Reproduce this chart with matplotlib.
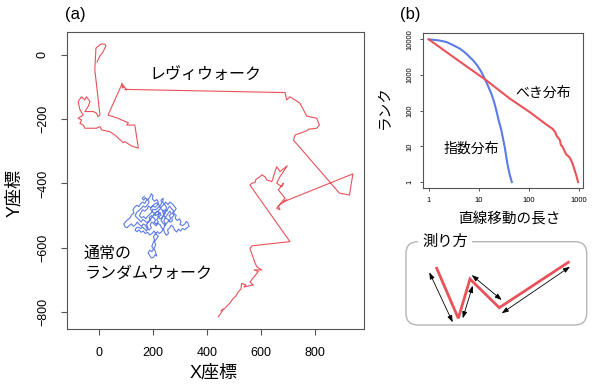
import matplotlib
matplotlib.use("Agg")
import matplotlib.pyplot as plt
import matplotlib.patches as mpatches

plt.rcParams['font.family'] = ['Liberation Sans', 'Noto Sans CJK JP', 'DejaVu Sans']

# ---- data: Levy walk (red)
levy_x = [442, 452, 459, 452, 467, 485, 496, 507, 516, 526, 528, 544, 537, 571, 559, 590, 574, 603,
          585, 578, 567, 559, 567, 707, 559,
          566, 578, 581, 596, 603, 615, 621, 640, 652, 658, 670, 697, 670, 658, 677, 683, 664, 689,
          683, 658, 670, 664, 695, 683,
          940, 927, 890, 720, 726, 769, 775, 806, 816, 806, 769, 744, 707, 695, 689,
          96, 103, 84, 90, 84, 34,
          71, 78, 109, 103, 133, 146, 127, 121, 96, 90, 59, 41, 10, 4, -9, -52, -58, -70, -64, -77,
          -58, -70, -77, -64, -52, -46, -33, -40, -52, -21, -9, -3, 4,
          -15, -11, 7, 22, 26, 15, 4, -7]
levy_y = [-815, -803, -791, -797, -788, -772, -759, -750, -737, -728, -711, -716, -722, -716, -707, -674, -669, -669,
          -660, -648, -622, -602, -594, -581, -405,
          -399, -397, -387, -379, -373, -379, -389, -394, -363, -348, -363, -345, -379, -399, -410, -399, -420, -446,
          -451, -477, -482, -470, -451, -457,
          -370, -436, -430, -265, -249, -236, -231, -228, -218, -197, -190, -150, -130, -140, -117,
          -107, -109, -88, -103, -93, -187,
          -197, -200, -211, -218, -218, -290, -285, -283, -270, -273, -249, -239, -233, -223, -228, -228, -218, -213, -202, -197,
          -187, -171, -145, -130, -140, -130, -145, -161, -176, -176, -181, -192, -187,
          -47, 21, 34, 34, 28, 9, -3, -22]

# ---- data: ordinary random walk (blue)
rw_x = [205, 212, 220, 224, 218, 226, 235, 240, 236, 244, 252, 256, 262, 268, 275, 278, 286, 282, 290, 298,
        304, 300, 310, 318, 324, 330, 334, 326, 318, 309, 302, 294, 288, 280, 276, 268, 262, 254, 258, 250,
        243, 240, 232, 226, 218, 212, 204, 196, 190, 194, 186, 178, 172, 164, 158, 150, 142, 136, 128, 120,
        112, 104, 96, 92, 100, 108, 116, 122, 130, 126, 132, 140, 148, 154, 162, 170, 176, 184, 190, 194,
        200, 198, 206, 214, 220, 216, 208, 200, 192, 184, 178, 170, 162, 156, 150, 158, 166, 174, 180, 188,
        196, 200, 210, 218, 226, 232, 230, 238, 236, 244, 250, 246, 238, 230, 238, 246, 252, 260, 266, 260,
        268, 262, 254, 246, 240, 246, 240, 232, 224, 216, 208, 202, 206, 200, 196, 202, 196, 188, 182, 188,
        194, 202, 208, 214, 210, 204, 210, 206, 214, 220, 212, 204, 196, 188, 180, 172, 164, 156, 148, 142,
        134, 138, 146, 154, 162, 170, 176,
        182, 176, 184, 192, 186, 194, 202, 210, 204, 212, 220, 214, 222, 230, 226, 218, 210, 204, 196, 190,
        198, 206, 214, 222, 228, 236, 244, 240, 248, 256, 264, 272, 270, 278, 272, 280, 286, 278, 270, 262,
        256, 248, 240, 232, 226, 218, 210, 202, 194, 186, 178, 170, 162, 156, 148, 140, 134, 140, 148, 156,
        164, 172, 180, 186, 180, 172, 166, 160, 168]
rw_y = [-498, -490, -486, -495, -503, -510, -506, -497, -488, -482, -486, -477, -470, -478, -484, -494, -499, -508, -515, -510,
        -519, -528, -531, -526, -518, -524, -533, -538, -544, -540, -548, -542, -551, -545, -536, -530, -538, -545, -555, -561,
        -553, -543, -538, -528, -524, -532, -526, -520, -528, -538, -545, -540, -530, -526, -534, -528, -520, -528, -533, -526,
        -531, -538, -534, -526, -518, -512, -506, -497, -492, -482, -474, -468, -472, -463, -458, -462, -452, -448, -440, -432,
        -438, -448, -455, -450, -458, -468, -474, -470, -476, -470, -480, -486, -482, -490, -500, -507, -503, -510, -502, -496,
        -490, -480, -482, -476, -470, -462, -452, -446, -458, -466, -474, -492, -500, -516, -524, -530, -522, -516, -508, -500,
        -494, -486, -496, -506, -516, -526, -540, -550, -556, -550, -558, -566, -576, -586, -596, -604, -612, -608, -616, -624,
        -632, -630, -622, -626, -614, -602, -592, -580, -572, -564, -558, -548, -556, -560, -552, -556, -548, -552, -544, -550,
        -546, -538, -536, -540, -536, -542, -548,
        -538, -528, -520, -514, -506, -500, -506, -514, -520, -526, -520, -512, -504, -498, -490, -496, -500, -492, -486, -478,
        -470, -464, -460, -466, -478, -484, -490, -500, -508, -512, -520, -516, -506, -500, -492, -486, -478, -470, -462, -458,
        -466, -458, -466, -472, -480, -486, -490, -498, -508, -516, -522, -516, -512, -520, -512, -506, -500, -490, -484, -478,
        -470, -474, -466, -458, -450, -444, -452, -446, -440]

# ---- data: rank plots (b)
power_len = [1, 3.1, 14.2, 41.7, 105, 225, 300, 340, 360, 420, 440, 470, 560, 650, 710, 770, 800, 900, 970]
power_rank = [10000, 3200, 708, 219, 91, 41, 31, 25, 20, 15, 11, 10, 6, 5, 4, 3, 2.5, 1.5, 1]
exp_len = [1, 1.6, 2.25, 3.0, 4.2, 5.5, 7.7, 9.5, 11.3, 14.2, 17.9, 20, 22.5, 25, 28.4, 33.1, 37.4, 41.7, 46]
exp_rank = [10000, 9300, 8410, 7000, 5470, 4100, 2580, 1800, 1213, 637, 300, 190, 102, 55, 28, 9.6, 3.3, 1.6, 1]

# ---- schematic "how to measure" (pixel coords)
zig_x = [436.7, 458.3, 470.0, 499.3, 568.3]
zig_y = [268.3, 318.3, 279.0, 307.7, 262.3]
arrows = [((429.3, 272.3), (452.7, 322.3)),
          ((462.7, 318.3), (472.7, 285.7)),
          ((471.7, 275.0), (501.7, 300.0)),
          ((501.7, 313.3), (570.0, 266.7))]

RED = '#e8525a'
BLUE = '#5b7be6'
GREY = '#555555'

fig = plt.figure(figsize=(6, 3.87), dpi=100)
fig.patch.set_facecolor('white')

# overlay in pixel coordinates
ov = fig.add_axes([0, 0, 1, 1])
ov.set_xlim(0, 600)
ov.set_ylim(387, 0)
ov.axis('off')

# ---------- panel (a)
ax1 = fig.add_axes([67 / 600, 1 - 329 / 387, 297 / 600, 297 / 387])
ax1.plot(levy_x, levy_y, color=RED, lw=0.8)
ax1.plot(rw_x, rw_y, color=BLUE, lw=0.8)
ax1.set_xlim(-118, 981)
ax1.set_ylim(-853, 71.6)
ax1.set_xticks([0, 200, 400, 600, 800])
ax1.set_yticks([-800, -600, -400, -200, 0])
ax1.tick_params(length=4, width=0.8, color=GREY, labelsize=9, pad=9)
for t in ax1.get_yticklabels():
    t.set_rotation(90)
    t.set_va('center')
for s in ax1.spines.values():
    s.set_color(GREY)
    s.set_linewidth(0.8)
ax1.text(393, -62, 'レヴィウォーク', fontsize=11.5, ha='center', va='center')
ax1.text(-58, -617, '通常の', fontsize=11.5, ha='left', va='center')
ax1.text(-52, -679, 'ランダムウォーク', fontsize=11.5, ha='left', va='center')

# ---------- panel (b)
ax2 = fig.add_axes([422.7 / 600, 1 - 188.3 / 387, 160.6 / 600, 155.6 / 387])
ax2.plot(exp_len, exp_rank, color=BLUE, lw=1.5)
ax2.plot(power_len, power_rank, color=RED, lw=1.5)
ax2.set_xscale('log')
ax2.set_yscale('log')
ax2.set_xlim(10 ** -0.12, 10 ** 3.092)
ax2.set_ylim(10 ** -0.176, 10 ** 4.185)
ax2.set_xticks([1, 10, 100, 1000])
ax2.set_xticklabels(['1', '10', '100', '1000'])
ax2.set_yticks([1, 10, 100, 1000, 10000])
ax2.set_yticklabels(['1', '10', '100', '1000', '10000'])
ax2.minorticks_off()
ax2.tick_params(length=2.5, width=0.7, color=GREY, labelsize=5.5, pad=4)
for t in ax2.get_yticklabels():
    t.set_rotation(90)
    t.set_va('center')
for s in ax2.spines.values():
    s.set_color(GREY)
    s.set_linewidth(0.8)
ax2.text(193, 313, 'べき分布', fontsize=10, ha='center', va='center')
ax2.text(7.2, 8.9, '指数分布', fontsize=10, ha='center', va='center')

# ---------- labels in pixel coords
ov.text(75, 15, '(a)', fontsize=12, ha='center', va='center')
ov.text(410, 15, '(b)', fontsize=12, ha='center', va='center')
ov.text(214, 373, 'X座標', fontsize=13, ha='center', va='center')
ov.text(15, 193, 'Y座標', fontsize=13, ha='center', va='center', rotation=90)
ov.text(509.7, 218.3, '直線移動の長さ', fontsize=10.5, ha='center', va='center')
ov.text(385, 106.7, 'ランク', fontsize=10.5, ha='center', va='center', rotation=90)

# ---------- schematic box
box = mpatches.FancyBboxPatch((406, 241.7), 180.7, 83.3,
                              boxstyle="round,pad=0,rounding_size=12",
                              facecolor='white', edgecolor='#b5b5b5', lw=1)
ov.add_patch(box)
ov.text(445, 241.7, '測り方', fontsize=11, ha='center', va='center',
        bbox=dict(facecolor='white', edgecolor='none', pad=3))
ov.plot(zig_x, zig_y, color=RED, lw=2, solid_joinstyle='miter')
for (p0, p1) in arrows:
    ov.annotate('', xy=p1, xytext=p0,
                arrowprops=dict(arrowstyle='<|-|>,head_length=0.5,head_width=0.18',
                                lw=0.6, color='black', shrinkA=0, shrinkB=0,
                                mutation_scale=8))

fig.savefig('out.png', dpi=100, facecolor='white')
